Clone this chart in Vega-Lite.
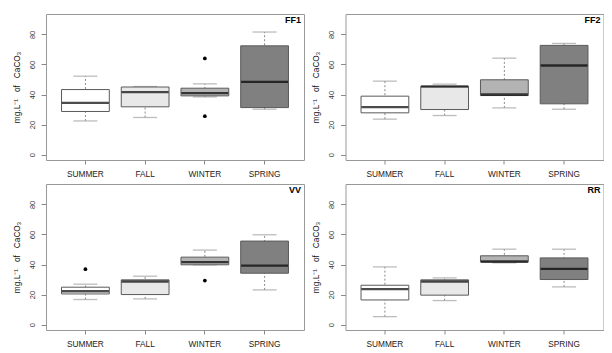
{
  "$schema": "https://vega.github.io/schema/vega-lite/v6.json",
  "padding": {"left": 11, "top": 13, "right": 0, "bottom": 0},
  "background": "white",
  "columns": 2,
  "spacing": {"row": 24, "column": 41.5},
  "bounds": "flush",
  "datasets": {
    "box": [
      {"site": "FF1", "season": "SUMMER", "lo": 22.4, "q1": 28.7, "med": 34.4, "q3": 43.3, "hi": 52.2},
      {"site": "FF1", "season": "FALL", "lo": 24.7, "q1": 31.8, "med": 41.6, "q3": 45.0, "hi": 45.3},
      {"site": "FF1", "season": "WINTER", "lo": 38.4, "q1": 39.1, "med": 40.9, "q3": 44.2, "hi": 47.1},
      {"site": "FF1", "season": "SPRING", "lo": 30.2, "q1": 31.3, "med": 48.4, "q3": 72.4, "hi": 81.6},
      {"site": "FF2", "season": "SUMMER", "lo": 23.6, "q1": 27.8, "med": 31.6, "q3": 38.9, "hi": 48.9},
      {"site": "FF2", "season": "FALL", "lo": 26.0, "q1": 30.0, "med": 45.3, "q3": 45.6, "hi": 46.9},
      {"site": "FF2", "season": "WINTER", "lo": 31.1, "q1": 39.3, "med": 40.0, "q3": 49.8, "hi": 64.2},
      {"site": "FF2", "season": "SPRING", "lo": 30.2, "q1": 33.8, "med": 59.3, "q3": 72.7, "hi": 74.0},
      {"site": "VV", "season": "SUMMER", "lo": 16.7, "q1": 20.4, "med": 22.2, "q3": 24.9, "hi": 26.9},
      {"site": "VV", "season": "FALL", "lo": 17.1, "q1": 20.0, "med": 28.7, "q3": 29.8, "hi": 32.2},
      {"site": "VV", "season": "WINTER", "lo": 39.8, "q1": 39.8, "med": 41.6, "q3": 44.9, "hi": 49.6},
      {"site": "VV", "season": "SPRING", "lo": 23.1, "q1": 34.2, "med": 39.3, "q3": 55.6, "hi": 59.8},
      {"site": "RR", "season": "SUMMER", "lo": 5.3, "q1": 16.4, "med": 23.6, "q3": 26.2, "hi": 38.4},
      {"site": "RR", "season": "FALL", "lo": 16.0, "q1": 19.6, "med": 28.7, "q3": 29.8, "hi": 31.1},
      {"site": "RR", "season": "WINTER", "lo": 41.1, "q1": 41.6, "med": 42.0, "q3": 45.8, "hi": 50.2},
      {"site": "RR", "season": "SPRING", "lo": 25.1, "q1": 30.0, "med": 37.1, "q3": 44.4, "hi": 50.2}
    ],
    "out": [
      {"site": "FF1", "season": "WINTER", "v": 64.0},
      {"site": "FF1", "season": "WINTER", "v": 25.6},
      {"site": "VV", "season": "SUMMER", "v": 36.9},
      {"site": "VV", "season": "WINTER", "v": 29.3}
    ]
  },
  "concat": [
    {
      "width": 258, "height": 146,
      "title": {"text": "FF1"},
      "encoding": {"x": {"field": "season", "type": "nominal", "sort": ["SUMMER", "FALL", "WINTER", "SPRING"], "scale": {"type": "band", "paddingInner": 0.2, "paddingOuter": 0.26}, "title": null}},
      "layer": [
        {"data": {"name": "box"}, "transform": [{"filter": "datum.site === 'FF1'"}], "mark": {"type": "rule", "strokeDash": [2, 2], "color": "#8a8a8a", "strokeWidth": 1}, "encoding": {"y": {"field": "lo", "type": "quantitative", "scale": {"domain": [-3.6, 93.6], "nice": false, "zero": false}, "title": "mg.L⁻¹\u00a0\u00a0\u00a0of\u00a0\u00a0\u00a0CaCO₃"}, "y2": {"field": "hi"}}},
        {"data": {"name": "box"}, "transform": [{"filter": "datum.site === 'FF1'"}], "mark": {"type": "tick", "size": 24, "thickness": 1.3, "color": "#a0a0a0"}, "encoding": {"y": {"field": "lo", "type": "quantitative"}}},
        {"data": {"name": "box"}, "transform": [{"filter": "datum.site === 'FF1'"}], "mark": {"type": "tick", "size": 24, "thickness": 1.3, "color": "#a0a0a0"}, "encoding": {"y": {"field": "hi", "type": "quantitative"}}},
        {"data": {"name": "box"}, "transform": [{"filter": "datum.site === 'FF1'"}], "mark": {"type": "bar", "stroke": "#5a5a5a", "strokeWidth": 1}, "encoding": {"y": {"field": "q1", "type": "quantitative"}, "y2": {"field": "q3"}, "fill": {"field": "season", "type": "nominal", "scale": {"domain": ["SUMMER", "FALL", "WINTER", "SPRING"], "range": ["#ffffff", "#e8e8e8", "#b3b3b3", "#808080"]}, "legend": null}}},
        {"data": {"name": "box"}, "transform": [{"filter": "datum.site === 'FF1'"}], "mark": {"type": "tick", "size": 47, "thickness": 2.3, "color": "#000000"}, "encoding": {"y": {"field": "med", "type": "quantitative"}}},
        {"data": {"name": "out"}, "transform": [{"filter": "datum.site === 'FF1'"}], "mark": {"type": "point", "filled": true, "size": 14, "color": "#000000", "opacity": 1}, "encoding": {"y": {"field": "v", "type": "quantitative"}}}
      ]
    },
    {
      "width": 258, "height": 146,
      "title": {"text": "FF2"},
      "encoding": {"x": {"field": "season", "type": "nominal", "sort": ["SUMMER", "FALL", "WINTER", "SPRING"], "scale": {"type": "band", "paddingInner": 0.2, "paddingOuter": 0.26}, "title": null}},
      "layer": [
        {"data": {"name": "box"}, "transform": [{"filter": "datum.site === 'FF2'"}], "mark": {"type": "rule", "strokeDash": [2, 2], "color": "#8a8a8a", "strokeWidth": 1}, "encoding": {"y": {"field": "lo", "type": "quantitative", "scale": {"domain": [-3.6, 93.6], "nice": false, "zero": false}, "title": "mg.L⁻¹\u00a0\u00a0\u00a0of\u00a0\u00a0\u00a0CaCO₃"}, "y2": {"field": "hi"}}},
        {"data": {"name": "box"}, "transform": [{"filter": "datum.site === 'FF2'"}], "mark": {"type": "tick", "size": 24, "thickness": 1.3, "color": "#a0a0a0"}, "encoding": {"y": {"field": "lo", "type": "quantitative"}}},
        {"data": {"name": "box"}, "transform": [{"filter": "datum.site === 'FF2'"}], "mark": {"type": "tick", "size": 24, "thickness": 1.3, "color": "#a0a0a0"}, "encoding": {"y": {"field": "hi", "type": "quantitative"}}},
        {"data": {"name": "box"}, "transform": [{"filter": "datum.site === 'FF2'"}], "mark": {"type": "bar", "stroke": "#5a5a5a", "strokeWidth": 1}, "encoding": {"y": {"field": "q1", "type": "quantitative"}, "y2": {"field": "q3"}, "fill": {"field": "season", "type": "nominal", "scale": {"domain": ["SUMMER", "FALL", "WINTER", "SPRING"], "range": ["#ffffff", "#e8e8e8", "#b3b3b3", "#808080"]}, "legend": null}}},
        {"data": {"name": "box"}, "transform": [{"filter": "datum.site === 'FF2'"}], "mark": {"type": "tick", "size": 47, "thickness": 2.3, "color": "#000000"}, "encoding": {"y": {"field": "med", "type": "quantitative"}}}
      ]
    },
    {
      "width": 258, "height": 146,
      "title": {"text": "VV"},
      "encoding": {"x": {"field": "season", "type": "nominal", "sort": ["SUMMER", "FALL", "WINTER", "SPRING"], "scale": {"type": "band", "paddingInner": 0.2, "paddingOuter": 0.26}, "title": null}},
      "layer": [
        {"data": {"name": "box"}, "transform": [{"filter": "datum.site === 'VV'"}], "mark": {"type": "rule", "strokeDash": [2, 2], "color": "#8a8a8a", "strokeWidth": 1}, "encoding": {"y": {"field": "lo", "type": "quantitative", "scale": {"domain": [-3.6, 93.6], "nice": false, "zero": false}, "title": "mg.L⁻¹\u00a0\u00a0\u00a0of\u00a0\u00a0\u00a0CaCO₃"}, "y2": {"field": "hi"}}},
        {"data": {"name": "box"}, "transform": [{"filter": "datum.site === 'VV'"}], "mark": {"type": "tick", "size": 24, "thickness": 1.3, "color": "#a0a0a0"}, "encoding": {"y": {"field": "lo", "type": "quantitative"}}},
        {"data": {"name": "box"}, "transform": [{"filter": "datum.site === 'VV'"}], "mark": {"type": "tick", "size": 24, "thickness": 1.3, "color": "#a0a0a0"}, "encoding": {"y": {"field": "hi", "type": "quantitative"}}},
        {"data": {"name": "box"}, "transform": [{"filter": "datum.site === 'VV'"}], "mark": {"type": "bar", "stroke": "#5a5a5a", "strokeWidth": 1}, "encoding": {"y": {"field": "q1", "type": "quantitative"}, "y2": {"field": "q3"}, "fill": {"field": "season", "type": "nominal", "scale": {"domain": ["SUMMER", "FALL", "WINTER", "SPRING"], "range": ["#ffffff", "#e8e8e8", "#b3b3b3", "#808080"]}, "legend": null}}},
        {"data": {"name": "box"}, "transform": [{"filter": "datum.site === 'VV'"}], "mark": {"type": "tick", "size": 47, "thickness": 2.3, "color": "#000000"}, "encoding": {"y": {"field": "med", "type": "quantitative"}}},
        {"data": {"name": "out"}, "transform": [{"filter": "datum.site === 'VV'"}], "mark": {"type": "point", "filled": true, "size": 14, "color": "#000000", "opacity": 1}, "encoding": {"y": {"field": "v", "type": "quantitative"}}}
      ]
    },
    {
      "width": 258, "height": 146,
      "title": {"text": "RR"},
      "encoding": {"x": {"field": "season", "type": "nominal", "sort": ["SUMMER", "FALL", "WINTER", "SPRING"], "scale": {"type": "band", "paddingInner": 0.2, "paddingOuter": 0.26}, "title": null}},
      "layer": [
        {"data": {"name": "box"}, "transform": [{"filter": "datum.site === 'RR'"}], "mark": {"type": "rule", "strokeDash": [2, 2], "color": "#8a8a8a", "strokeWidth": 1}, "encoding": {"y": {"field": "lo", "type": "quantitative", "scale": {"domain": [-3.6, 93.6], "nice": false, "zero": false}, "title": "mg.L⁻¹\u00a0\u00a0\u00a0of\u00a0\u00a0\u00a0CaCO₃"}, "y2": {"field": "hi"}}},
        {"data": {"name": "box"}, "transform": [{"filter": "datum.site === 'RR'"}], "mark": {"type": "tick", "size": 24, "thickness": 1.3, "color": "#a0a0a0"}, "encoding": {"y": {"field": "lo", "type": "quantitative"}}},
        {"data": {"name": "box"}, "transform": [{"filter": "datum.site === 'RR'"}], "mark": {"type": "tick", "size": 24, "thickness": 1.3, "color": "#a0a0a0"}, "encoding": {"y": {"field": "hi", "type": "quantitative"}}},
        {"data": {"name": "box"}, "transform": [{"filter": "datum.site === 'RR'"}], "mark": {"type": "bar", "stroke": "#5a5a5a", "strokeWidth": 1}, "encoding": {"y": {"field": "q1", "type": "quantitative"}, "y2": {"field": "q3"}, "fill": {"field": "season", "type": "nominal", "scale": {"domain": ["SUMMER", "FALL", "WINTER", "SPRING"], "range": ["#ffffff", "#e8e8e8", "#b3b3b3", "#808080"]}, "legend": null}}},
        {"data": {"name": "box"}, "transform": [{"filter": "datum.site === 'RR'"}], "mark": {"type": "tick", "size": 47, "thickness": 2.3, "color": "#000000"}, "encoding": {"y": {"field": "med", "type": "quantitative"}}}
      ]
    }
  ],
  "config": {
    "font": "Liberation Sans",
    "view": {"stroke": "#999999", "strokeWidth": 1},
    "title": {"anchor": "end", "offset": -11, "fontSize": 9, "fontWeight": "bold", "color": "#000000", "dx": -3, "baseline": "bottom", "font": "Liberation Sans"},
    "axisX": {"domain": false, "grid": false, "ticks": true, "tickSize": 4, "tickColor": "#8a8a8a", "labelFontSize": 8.3, "labelColor": "#222222", "labelPadding": 5, "labelAngle": 0, "labelBaseline": "top", "labelFont": "Liberation Sans"},
    "axisY": {"domain": false, "grid": false, "values": [0, 20, 40, 60, 80], "tickSize": 5, "tickColor": "#8a8a8a", "labelFontSize": 7.5, "labelColor": "#333333", "labelAngle": -90, "labelAlign": "center", "labelBaseline": "bottom", "labelPadding": 5, "titleFontSize": 8.3, "titleFontWeight": "normal", "titleColor": "#111111", "titlePadding": 7, "titleFont": "Liberation Sans", "labelFont": "Liberation Sans"}
  }
}
